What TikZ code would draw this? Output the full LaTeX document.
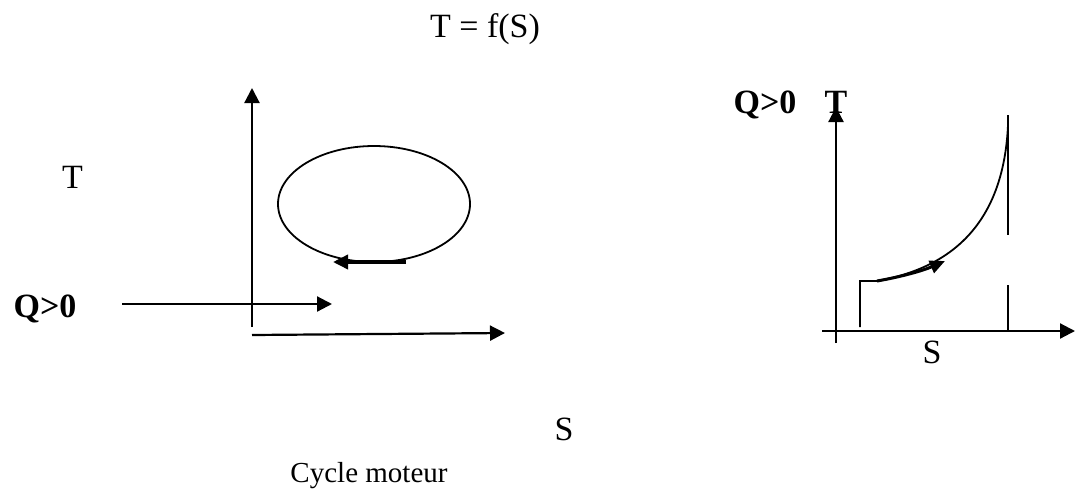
\documentclass[tikz,border=0pt]{standalone}
\usepackage{fontspec}
\setmainfont{Liberation Serif}
\usetikzlibrary{arrows.meta}
\tikzset{
  lbl/.style={inner sep=0pt, anchor=base, font=\fontsize{34}{38}\selectfont},
  lblb/.style={lbl, font=\fontsize{34}{38}\selectfont\bfseries},
  lbls/.style={inner sep=0pt, anchor=base, font=\fontsize{29}{34}\selectfont},
  ax/.style={line width=2.2pt, -{Triangle[length=15pt,width=15pt]}},
  thin/.style={line width=1.8pt},
  fat/.style={line width=3.5pt, -{Triangle[length=15pt,width=14pt]}}
}
\begin{document}
\begin{tikzpicture}[x=1pt,y=-1pt]
\useasboundingbox (0,0) rectangle (1082,488);
% texts
\node[lbl] (title) at (485,37) {T = f(S)};
\node[lbl] (tl) at (72.5,188) {T};
\node[lblb] (ql) at (45,317) {Q>0};
\node[lblb] (qr) at (765,113) {Q>0};
\node[lblb] (tr) at (836,113) {T};
\node[lbl] (sr) at (932,363) {S};
\node[lbl] (sb) at (564,440) {S};
\node[lbls] (cap) at (369,482) {Cycle moteur};
% left diagram
\coordinate (lyb) at (252,327);
\coordinate (lyt) at (252,88);
\coordinate (lxl) at (252,335);
\coordinate (lxr) at (505,333);
\coordinate (qs) at (122,304);
\coordinate (qe) at (332,304);
\coordinate (ec) at (374,204);
\coordinate (ea) at (406,262);
\coordinate (eb) at (333,262);
\draw[ax] (lyb) -- (lyt);
\draw[ax] (lxl) -- (lxr);
\draw[ax] (qs) -- (qe);
\draw[thin] (ec) ellipse [x radius=96, y radius=58];
\draw[fat] (ea) -- (eb);
% right diagram
\coordinate (ryb) at (836,343);
\coordinate (ryt) at (836,107);
\coordinate (rxl) at (822,331);
\coordinate (rxr) at (1075,331);
\coordinate (s0) at (860,327);
\coordinate (s1) at (860,281);
\coordinate (s2) at (877,281);
\coordinate (ctop) at (1008,125);
\coordinate (v1) at (1008,115);
\coordinate (v2) at (1008,235);
\coordinate (v3) at (1008,285);
\coordinate (v4) at (1008,331);
\coordinate (at) at (945,261);
\draw[ax] (ryb) -- (ryt);
\draw[ax] (rxl) -- (rxr);
\draw[thin] (s0) -- (s1) -- (s2) .. controls (938,270) and (1003,236) .. (ctop);
\draw[thin] (v1) -- (v2);
\draw[thin] (v3) -- (v4);
\draw[line width=3pt, -{Triangle[length=15pt,width=13pt]}] (s2) .. controls (900,277) and (922,271) .. (at);
\end{tikzpicture}
\end{document}
